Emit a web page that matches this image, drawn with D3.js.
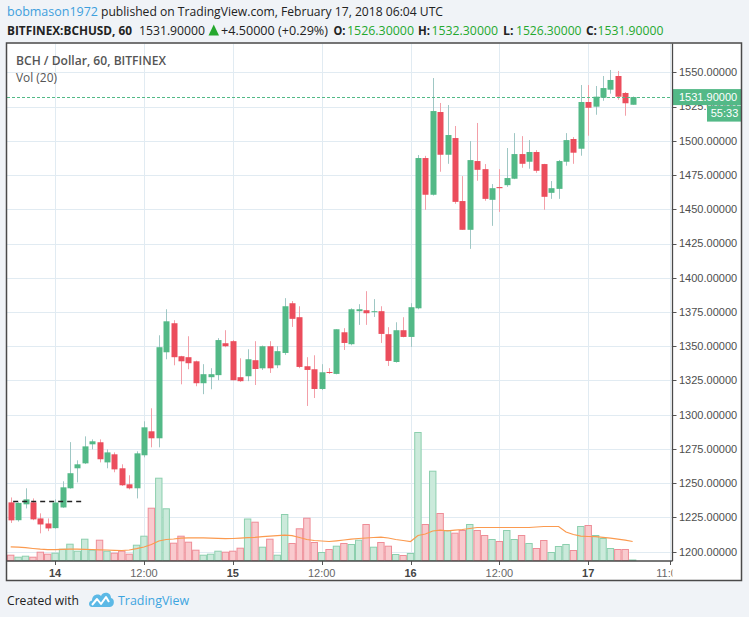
<!DOCTYPE html>
<html><head><meta charset="utf-8">
<script src="https://cdn.jsdelivr.net/npm/d3@7"></script>
<style>
html,body{margin:0;padding:0;background:#f0f3f7;}
svg{display:block;}
</style></head><body>
<svg id="c" width="749" height="617"></svg>
<script>
// ---------------- DATA ----------------
const firstCandle = "2018-02-13T18:00:00Z"; // hourly candles (60 min)
const openP = [1236.0,1223.0,1234.6,1236.0,1224.3,1220.6,1217.2,1232.3,1246.3,1260.9,
  1264.5,1278.4,1279.9,1265.2,1271.1,1260.9,1249.2,1246.3,1270.4,1287.9,
  1282.8,1345.6,1366.8,1342.7,1342.0,1339.0,1323.0,1327.4,1328.9,1352.2,
  1353.7,1327.4,1328.1,1339.8,1333.9,1350.0,1336.1,1345.1,1381.4,1371.2,
  1335.4,1333.2,1318.8,1331.2,1329.8,1360.2,1351.5,1375.6,1376.3,1375.2,
  1375.6,1358.8,1338.5,1361.7,1356.8,1377.7,1487.4,1460.6,1521.0,1489.8,
  1502.0,1456.0,1435.0,1485.2,1479.3,1456.9,1466.2,1467.6,1472.3,1490.3,
  1484.7,1491.8,1483.0,1462.0,1464.9,1484.7,1501.3,1494.2,1528.3,1524.9,
  1531.4,1537.3,1547.3,1534.9,1526.3];
const highP = [1239.6,1236.0,1246.3,1238.9,1228.0,1224.3,1238.2,1251.4,1280.0,1266.7,
  1284.2,1282.0,1282.0,1274.7,1272.5,1263.8,1255.8,1273.3,1295.2,1304.7,
  1358.0,1377.0,1369.0,1343.0,1357.3,1339.5,1336.9,1334.0,1355.9,1361.7,
  1354.5,1341.2,1347.8,1353.7,1350.5,1353.7,1350.0,1385.1,1383.0,1379.2,
  1342.0,1343.4,1336.9,1334.0,1362.4,1363.2,1377.7,1380.7,1390.2,1384.4,
  1379.2,1363.9,1367.5,1371.2,1381.4,1489.6,1489.0,1545.8,1527.6,1526.1,
  1510.8,1474.2,1499.8,1513.0,1483.0,1468.4,1479.3,1494.7,1505.6,1503.4,
  1500.5,1493.2,1483.2,1470.6,1486.0,1505.6,1502.7,1540.7,1540.7,1540.0,
  1547.3,1551.7,1551.0,1535.6,1532.3];
const lowP = [1221.0,1222.0,1231.6,1223.0,1213.4,1215.0,1216.8,1232.0,1246.0,1250.6,
  1264.0,1274.7,1265.2,1260.9,1258.0,1248.0,1245.5,1238.9,1268.9,1276.2,
  1276.2,1340.5,1336.1,1322.2,1333.2,1320.8,1315.0,1318.6,1325.2,1349.3,
  1325.0,1324.0,1324.5,1321.7,1332.7,1330.5,1334.0,1343.7,1364.1,1334.0,
  1306.4,1312.2,1318.0,1329.8,1329.5,1347.3,1350.7,1365.6,1365.6,1371.4,
  1352.4,1335.6,1338.0,1356.5,1349.5,1377.0,1449.6,1460.0,1477.4,1483.2,
  1454.0,1435.0,1421.1,1470.8,1456.2,1437.9,1448.1,1466.4,1472.0,1480.3,
  1479.6,1476.6,1449.6,1457.6,1457.6,1481.8,1483.2,1489.1,1503.7,1519.0,
  1529.2,1534.4,1530.0,1518.3,1526.3];
const closeP = [1222.9,1235.6,1238.2,1223.6,1219.9,1217.0,1235.9,1247.0,1257.3,1263.8,
  1276.9,1280.6,1267.5,1272.5,1260.1,1248.5,1246.3,1271.8,1290.8,1282.8,
  1349.3,1368.2,1342.0,1339.0,1337.6,1323.0,1329.6,1329.6,1354.5,1350.0,
  1325.2,1324.5,1340.5,1333.4,1350.0,1333.9,1346.4,1379.2,1370.0,1334.9,
  1332.7,1318.8,1331.0,1330.5,1362.4,1352.4,1377.0,1377.0,1374.1,1375.6,
  1359.0,1339.3,1361.7,1356.8,1378.5,1487.4,1460.6,1521.7,1489.8,1504.2,
  1455.4,1435.0,1485.9,1478.8,1457.6,1465.4,1465.4,1472.8,1490.3,1483.2,
  1491.8,1478.1,1459.1,1465.4,1485.2,1500.5,1491.3,1528.3,1524.1,1532.2,
  1538.5,1544.4,1532.2,1527.4,1531.9];
const volume = [53,33,43,33,83,63,73,113,163,93,
  213,103,203,93,73,93,63,153,243,523,
  823,517,173,243,183,103,53,63,93,83,
  93,123,415,383,133,213,53,460,170,317,
  423,180,80,110,143,170,160,203,360,133,
  180,143,60,50,70,1280,360,893,470,300,
  273,300,360,300,250,210,190,300,210,250,
  170,120,200,80,140,160,100,340,350,250,
  220,120,110,110,5];
const volMA20 = [137,133,128,120,113,108,108,112,113,113,
  112,110,107,105,102,100,105,118,135,160,
  195,210,215,223,227,227,226,224,222,218,
  220,224,228,232,238,243,248,253,248,230,
  210,200,195,190,197,205,213,220,225,230,
  233,225,210,200,190,250,265,295,303,297,
  303,310,320,330,330,330,330,330,330,330,
  330,335,340,340,340,285,260,243,240,238,
  232,223,213,203,190];
const priceTicks = [1200,1225,1250,1275,1300,1325,1350,1375,1400,1425,1450,1475,1500,1525,1550];
const timeTicks = ["2018-02-14T00:00:00Z","2018-02-14T12:00:00Z","2018-02-15T00:00:00Z","2018-02-15T12:00:00Z",
  "2018-02-16T00:00:00Z","2018-02-16T12:00:00Z","2018-02-17T00:00:00Z","2018-02-17T11:00:00Z"];
const timeTickLabels = ["14","12:00","15","12:00","16","12:00","17","11:00"];
const timeTickBold = [true,false,true,false,true,false,true,false];
const lastPrice = 1531.9;
const countdown = "55:33";
const drawnLine = {price:1236.8, from:"2018-02-13T18:20:00Z", to:"2018-02-14T04:00:00Z"};

// ---------------- LAYOUT ----------------
const svg = d3.select("#c");
const L = 7, T = 43.5, R = 672.5, B = 561, FR = 741.5, FB = 580.5;
const UP = "#53b987", DN = "#eb4d5c";
const t0 = new Date(firstCandle);
const times = openP.map((_, i) => d3.utcHour.offset(t0, i));

const x = d3.scaleUtc()
  .domain([new Date("2018-02-13T17:30:00Z"), new Date("2018-02-17T11:23:00Z")])
  .range([L, R]);
const y = d3.scaleLinear().domain([1200, 1550]).range([551.7, 72.3]);
const yv = d3.scaleLinear().domain([0, 1280]).range([B - 0.5, 432.5]);

// chart frame background
svg.append("rect").attr("x", L).attr("y", T).attr("width", FR - L).attr("height", FB - T).attr("fill", "#fff");

const defs = svg.append("defs");
defs.append("clipPath").attr("id", "plot").append("rect").attr("x", L).attr("y", T).attr("width", R - L).attr("height", B - T);
defs.append("clipPath").attr("id", "xax").append("rect").attr("x", L).attr("y", B).attr("width", R - L).attr("height", FB - B);

const plot = svg.append("g").attr("clip-path", "url(#plot)");

// grid
plot.selectAll("line.hg").data(priceTicks).join("line")
  .attr("x1", L).attr("x2", R)
  .attr("y1", d => Math.round(y(d)) + 0.5).attr("y2", d => Math.round(y(d)) + 0.5)
  .attr("stroke", "#e1ebf2").attr("stroke-width", 1);
plot.selectAll("line.vg").data(timeTicks).join("line")
  .attr("x1", d => Math.round(x(new Date(d))) + 0.5).attr("x2", d => Math.round(x(new Date(d))) + 0.5)
  .attr("y1", T).attr("y2", B)
  .attr("stroke", "#e1ebf2").attr("stroke-width", 1);

// volume bars
const bw = 7.4;
plot.selectAll("rect.vol").data(volume).join("rect")
  .attr("x", (d, i) => x(times[i]) - bw / 2 + 0.5)
  .attr("width", bw - 1)
  .attr("y", d => yv(d))
  .attr("height", d => Math.max(0, yv(0) - yv(d)))
  .attr("fill", (d, i) => closeP[i] >= openP[i] ? "#cbeadb" : "#f9cace")
  .attr("stroke", (d, i) => closeP[i] >= openP[i] ? "#8ccfae" : "#ee8d97")
  .attr("stroke-width", 1);

// volume MA
plot.append("path").datum(volMA20)
  .attr("d", d3.line().x((d, i) => x(times[i])).y(d => yv(d)))
  .attr("fill", "none").attr("stroke", "#fb9a4f").attr("stroke-width", 1.2);

// candles
const cg = plot.append("g");
times.forEach((t, i) => {
  const up = closeP[i] >= openP[i];
  const cx = Math.round(x(t)) + 0.5;
  cg.append("line").attr("x1", cx).attr("x2", cx)
    .attr("y1", y(highP[i])).attr("y2", y(lowP[i]))
    .attr("stroke", up ? "#9fc7c4" : "#f39fa8").attr("stroke-width", 1);
  const top = y(Math.max(openP[i], closeP[i])), bot = y(Math.min(openP[i], closeP[i]));
  cg.append("rect").attr("x", cx - 3).attr("width", 6)
    .attr("y", top).attr("height", Math.max(1, bot - top))
    .attr("fill", up ? UP : DN);
});

// user drawn dashed level
plot.append("line")
  .attr("x1", x(new Date(drawnLine.from))).attr("x2", x(new Date(drawnLine.to)))
  .attr("y1", Math.round(y(drawnLine.price)) + 0.5).attr("y2", Math.round(y(drawnLine.price)) + 0.5)
  .attr("stroke", "#222").attr("stroke-width", 1.3).attr("stroke-dasharray", "5,4");

// last price line
plot.append("line").attr("x1", L).attr("x2", R)
  .attr("y1", Math.round(y(lastPrice)) + 0.5).attr("y2", Math.round(y(lastPrice)) + 0.5)
  .attr("stroke", UP).attr("stroke-width", 1).attr("stroke-dasharray", "3,2")
  .attr("shape-rendering", "crispEdges");

// price axis
const pa = svg.append("g");
pa.selectAll("line").data(priceTicks).join("line")
  .attr("x1", R).attr("x2", R + 4)
  .attr("y1", d => Math.round(y(d)) + 0.5).attr("y2", d => Math.round(y(d)) + 0.5)
  .attr("stroke", "#555");
pa.selectAll("text").data(priceTicks).join("text")
  .attr("x", 679).attr("y", d => y(d)).attr("dy", "0.35em")
  .attr("font-family", "Liberation Sans, Arial, sans-serif").attr("font-size", 11)
  .attr("fill", "#4e4e4e")
  .text(d => d3.format(".5f")(d));

// last price label + countdown
const ly = y(lastPrice);
svg.append("rect").attr("x", R).attr("y", ly - 8).attr("width", FR - R).attr("height", 16).attr("fill", UP);
svg.append("text").attr("x", 679).attr("y", ly).attr("dy", "0.35em")
  .attr("font-family", "Liberation Sans, Arial, sans-serif").attr("font-size", 11).attr("fill", "#fff")
  .text(d3.format(".5f")(lastPrice));
svg.append("rect").attr("x", 707).attr("y", ly + 8.5).attr("width", FR - 707).attr("height", 16).attr("fill", UP);
svg.append("text").attr("x", 724.5).attr("y", ly + 16.5).attr("dy", "0.35em").attr("text-anchor", "middle")
  .attr("font-family", "Liberation Sans, Arial, sans-serif").attr("font-size", 11).attr("fill", "#fff")
  .text(countdown);

// time axis
const ta = svg.append("g").attr("clip-path", "url(#xax)");
ta.selectAll("line").data(timeTicks).join("line")
  .attr("x1", d => Math.round(x(new Date(d))) + 0.5).attr("x2", d => Math.round(x(new Date(d))) + 0.5)
  .attr("y1", B).attr("y2", B + 4).attr("stroke", "#555");
ta.selectAll("text").data(timeTicks).join("text")
  .attr("x", d => x(new Date(d))).attr("y", 573).attr("dy", "0.35em").attr("text-anchor", "middle")
  .attr("font-family", "Liberation Sans, Arial, sans-serif").attr("font-size", 11)
  .attr("font-weight", (d, i) => timeTickBold[i] ? "bold" : "normal")
  .attr("fill", (d, i) => timeTickBold[i] ? "#444" : "#666")
  .text((d, i) => timeTickLabels[i]);

// frame lines
svg.append("rect").attr("x", L - 0.5).attr("y", T - 0.5).attr("width", FR - L + 0.5).attr("height", FB - T + 0.5)
  .attr("fill", "none").attr("stroke", "#4a4a4a").attr("stroke-width", 1.5);
svg.append("line").attr("x1", R).attr("x2", R).attr("y1", T).attr("y2", B).attr("stroke", "#4a4a4a").attr("stroke-width", 1.3);
svg.append("line").attr("x1", L).attr("x2", R).attr("y1", B).attr("y2", B).attr("stroke", "#4a4a4a").attr("stroke-width", 1.3);

// legend inside chart
const lf = "Open Sans, Noto Sans, sans-serif";
svg.append("text").attr("x", 16).attr("y", 60).attr("dy", "0.35em").attr("font-family", lf).attr("font-size", 13)
  .attr("font-weight", 600).attr("fill", "#555").attr("textLength", 150).attr("lengthAdjust", "spacingAndGlyphs")
  .text("BCH / Dollar, 60, BITFINEX");
svg.append("text").attr("x", 16).attr("y", 77).attr("dy", "0.35em").attr("font-family", lf).attr("font-size", 13)
  .attr("fill", "#555").attr("textLength", 41).attr("lengthAdjust", "spacingAndGlyphs")
  .text("Vol (20)");

// header
const hf = "Open Sans, Noto Sans, sans-serif";
function ht(xp, yp, txt, opts) {
  const t = svg.append("text").attr("x", xp).attr("y", yp).attr("dy", "0.35em")
    .attr("font-family", hf).attr("font-size", 13)
    .attr("fill", opts.fill || "#222").attr("font-weight", opts.bold ? "bold" : "normal").text(txt);
  if (opts.len) t.attr("textLength", opts.len).attr("lengthAdjust", "spacingAndGlyphs");
  return t;
}
ht(7, 11, "bobmason1972", {fill: "#3d9fdd", len: 91});
ht(101, 11, "published on TradingView.com, February 17, 2018 06:04 UTC", {fill: "#222", len: 342});
const G = "#25a82e";
ht(7, 30, "BITFINEX:BCHUSD, 60", {bold: true, len: 125});
ht(139, 30, "1531.90000", {len: 66});
svg.append("path").attr("d", "M208.5,35.5 L219,35.5 L213.75,24.5 Z").attr("fill", G);
ht(221, 30, "+4.50000 (+0.29%)", {len: 107});
ht(333.5, 30, "O:", {bold: true, len: 12});
ht(347, 30, "1526.30000", {fill: G, len: 67});
ht(418, 30, "H:", {bold: true, len: 12});
ht(431.5, 30, "1532.30000", {fill: G, len: 66.5});
ht(503, 30, "L:", {bold: true, len: 10.5});
ht(516, 30, "1526.30000", {fill: G, len: 65.5});
ht(586, 30, "C:", {bold: true, len: 11});
ht(597.5, 30, "1531.90000", {fill: G, len: 66});

// footer
ht(7, 600, "Created with", {fill: "#222", len: 72});
const logo = svg.append("g").attr("transform", "translate(88,590)");
logo.append("path")
  .attr("d", "M4,17 C0,17 0,11 4,10.5 C4,5 10,3 13,6 C15,1 23,2 23,8 C27,8 27,17 22,17 Z")
  .attr("fill", "#5cb9e6");
logo.append("path").attr("d", "M4,15 L9,9 L13,14 L18,7 L21,12")
  .attr("fill", "none").attr("stroke", "#fff").attr("stroke-width", 2).attr("stroke-linejoin", "round");
ht(118, 600, "TradingView", {fill: "#3da5e0", len: 71});
</script>
</body></html>
